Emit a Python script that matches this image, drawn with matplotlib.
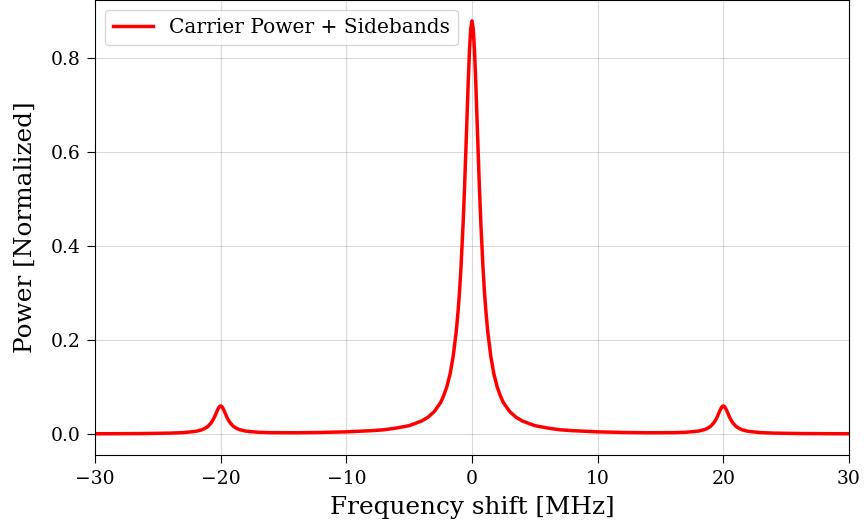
import matplotlib
matplotlib.use('Agg')
import matplotlib.pyplot as plt

# frequency shift [MHz] and normalized power
freq_pos = [0, 0.1, 0.2, 0.3, 0.4, 0.5, 0.6, 0.7, 0.875, 1.0, 1.1, 1.25, 1.5, 1.75, 2.0,
            2.25, 2.5, 3, 3.5, 4, 5, 6, 7, 8, 10, 12, 14, 16, 17, 18, 18.5, 18.75, 19,
            19.25, 19.4, 19.5, 19.6, 19.75, 19.9, 20, 20.1, 20.25, 20.4, 20.5, 20.6, 20.75,
            21, 21.25, 21.5, 22, 23, 24, 26, 28, 30]
power_pos = [0.880, 0.863, 0.817, 0.750, 0.672, 0.594, 0.519, 0.452, 0.355, 0.300, 0.264,
             0.219, 0.165, 0.127, 0.101, 0.082, 0.067, 0.048, 0.036, 0.028, 0.018, 0.013,
             0.0092, 0.0073, 0.0048, 0.0035, 0.0029, 0.0031, 0.0039, 0.0063, 0.0095, 0.0124,
             0.0169, 0.0242, 0.0307, 0.036, 0.0421, 0.0515, 0.0586, 0.060, 0.0585, 0.0514,
             0.0420, 0.0359, 0.0306, 0.0241, 0.0166, 0.0122, 0.0091, 0.0058, 0.0031, 0.0021,
             0.0012, 0.0009, 0.0007]

# spectrum is symmetric about the carrier
freq = [-f for f in freq_pos[:0:-1]] + freq_pos
power = power_pos[:0:-1] + power_pos

plt.rc('font', family='DejaVu Serif')

fig = plt.figure(figsize=(8.65, 5.29), dpi=100)
ax = fig.add_axes([0.1098, 0.1399, 0.8717, 0.8601])

ax.plot(freq, power, color='red', linewidth=2.5, label='Carrier Power + Sidebands')

ax.set_xlim(-30, 30)
ax.set_ylim(-0.0445, 0.9245)
ax.set_yticks([0.0, 0.2, 0.4, 0.6, 0.8])
ax.tick_params(labelsize=13.5, length=5.5, pad=5)
ax.grid(True, color='gray', alpha=0.3, linewidth=0.8)

ax.set_xlabel('Frequency shift [MHz]', fontsize=17.8, labelpad=6)
ax.set_ylabel('Power [Normalized]', fontsize=17.8, labelpad=10)
ax.legend(loc='upper left', fontsize=14.5)

fig.savefig('out.png', dpi=100)
